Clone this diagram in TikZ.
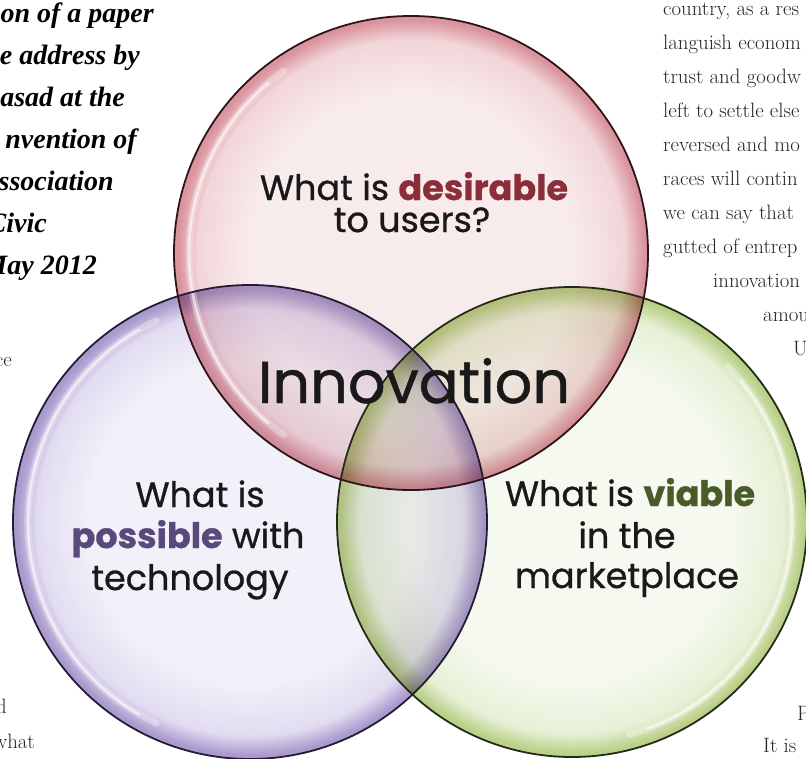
\documentclass[tikz,border=0pt]{standalone}
\usepackage{fontspec}
\newfontfamily\pop{Poppins}[FakeBold=0.8]
\newfontfamily\tms{Liberation Serif}
\definecolor{rin}{RGB}{248,235,235}
\definecolor{rmid}{RGB}{242,214,217}
\definecolor{rout}{RGB}{218,148,158}
\definecolor{pin}{RGB}{242,240,248}
\definecolor{pmid}{RGB}{226,220,241}
\definecolor{pout}{RGB}{170,154,206}
\definecolor{gin}{RGB}{245,249,239}
\definecolor{gmid}{RGB}{231,240,214}
\definecolor{gout}{RGB}{186,208,136}
\definecolor{rline}{RGB}{45,20,22}
\definecolor{pline}{RGB}{35,28,55}
\definecolor{gline}{RGB}{35,45,22}
\definecolor{dred}{RGB}{140,45,58}
\definecolor{dpur}{RGB}{88,74,122}
\definecolor{dgrn}{RGB}{72,92,42}
\definecolor{txt}{RGB}{25,25,25}
\pgfdeclareradialshading{redshade}{\pgfpoint{0bp}{0bp}}{color(0bp)=(rin); color(17bp)=(rin); color(22.5bp)=(rmid); color(24.6bp)=(rout); color(25bp)=(rout); color(50bp)=(rout)}
\pgfdeclareradialshading{purshade}{\pgfpoint{0bp}{0bp}}{color(0bp)=(pin); color(17bp)=(pin); color(22.5bp)=(pmid); color(24.6bp)=(pout); color(25bp)=(pout); color(50bp)=(pout)}
\pgfdeclareradialshading{grnshade}{\pgfpoint{0bp}{0bp}}{color(0bp)=(gin); color(17bp)=(gin); color(22.5bp)=(gmid); color(24.6bp)=(gout); color(25bp)=(gout); color(50bp)=(gout)}
\tikzset{
  lbl/.style={font=\pop\fontsize{35}{40}\selectfont, text=txt, anchor=base, inner sep=0pt},
  side/.style={font=\fontsize{20.8}{23}\selectfont, text=black!85, anchor=base west, inner sep=0pt},
  sidee/.style={side, anchor=base east},
  sidebi/.style={font=\tms\bfseries\itshape\fontsize{28}{30}\selectfont, text=black, anchor=base east, inner sep=0pt},
  gloss/.style={white, line cap=round},
}
\begin{document}
\begin{tikzpicture}[x=1pt,y=-1pt]
\useasboundingbox (0,0) rectangle (806,758);
\clip (0,0) rectangle (806,758);
\fill[white] (0,0) rectangle (806,758);
% centres
\coordinate (R) at (411,253);
\coordinate (P) at (250,522);
\coordinate (G) at (572,522);
% fills
\begin{scope}[blend mode=multiply]
\shade[shading=purshade] (P) circle[radius=237pt];
\shade[shading=grnshade] (G) circle[radius=235pt];
\shade[shading=redshade] (R) circle[radius=237pt];
\end{scope}
% glossy highlights
\draw[gloss, line width=7pt, opacity=0.3] ([shift={(125:222pt)}]R) arc[start angle=125, end angle=235, radius=222pt];
\draw[gloss, line width=2.5pt, opacity=0.6] ([shift={(130:222pt)}]R) arc[start angle=130, end angle=230, radius=222pt];
\draw[gloss, line width=7pt, opacity=0.3] ([shift={(115:222pt)}]P) arc[start angle=115, end angle=245, radius=222pt];
\draw[gloss, line width=2.5pt, opacity=0.6] ([shift={(120:222pt)}]P) arc[start angle=120, end angle=240, radius=222pt];
\draw[gloss, line width=7pt, opacity=0.3] ([shift={(-75:220pt)}]G) arc[start angle=-75, end angle=45, radius=220pt];
\draw[gloss, line width=2.5pt, opacity=0.6] ([shift={(-70:220pt)}]G) arc[start angle=-70, end angle=40, radius=220pt];
% outlines
\draw[pline, line width=1.8pt] (P) circle[radius=237pt];
\draw[gline, line width=1.8pt] (G) circle[radius=235pt];
\draw[rline, line width=1.8pt] (R) circle[radius=237pt];
% labels
\node[lbl] (d1) at (414,200) {What is \textbf{\color{dred}desirable}};
\node[lbl] (d2) at (412,232) {to users?};
\node[lbl, font=\pop\fontsize{59}{66}\selectfont] (inn) at (414,403) {Innovation};
\node[lbl] (p1) at (200,507) {What is};
\node[lbl] (p2) at (188,548) {\textbf{\color{dpur}possible} with};
\node[lbl] (p3) at (190,590) {technology};
\node[lbl] (g1) at (630,506) {What is \textbf{\color{dgrn}viable}};
\node[lbl] (g2) at (627,548) {in the};
\node[lbl] (g3) at (627,588) {marketplace};
% side text, left
\node[sidebi] (l1) at (154,22) {on of a paper};
\node[sidebi] (l2) at (140,64) {e address by};
\node[sidebi] (l3) at (125,106) {asad at the};
\node[sidebi] (l4) at (137,148) {nvention of};
\node[sidebi] (l5) at (114,190) {ssociation};
\node[sidebi] (l6) at (47,232) {Civic};
\node[sidebi] (l7) at (97,274) {May 2012};
\node[sidee] (l8) at (12,366) {ce};
\node[sidee] (l9) at (7,713) {d};
\node[sidee] (l10) at (35,748) {what};
% side text, right
\node[side] (r1) at (663,15) {country, as a res};
\node[side] (r2) at (663,49) {languish econom};
\node[side] (r3) at (663,83) {trust and goodw};
\node[side] (r4) at (663,117) {left to settle else};
\node[side] (r5) at (663,151) {reversed and mo};
\node[side] (r6) at (663,185) {races will contin};
\node[side] (r7) at (663,219) {we can say that};
\node[side] (r8) at (663,253) {gutted of entrep};
\node[side] (r9) at (713,287) {innovation};
\node[side] (r10) at (763,321) {amou};
\node[side] (r11) at (793,355) {U};
\node[side] (r12) at (797,720) {P};
\node[side] (r13) at (763,752) {It is};
\end{tikzpicture}
\end{document}
